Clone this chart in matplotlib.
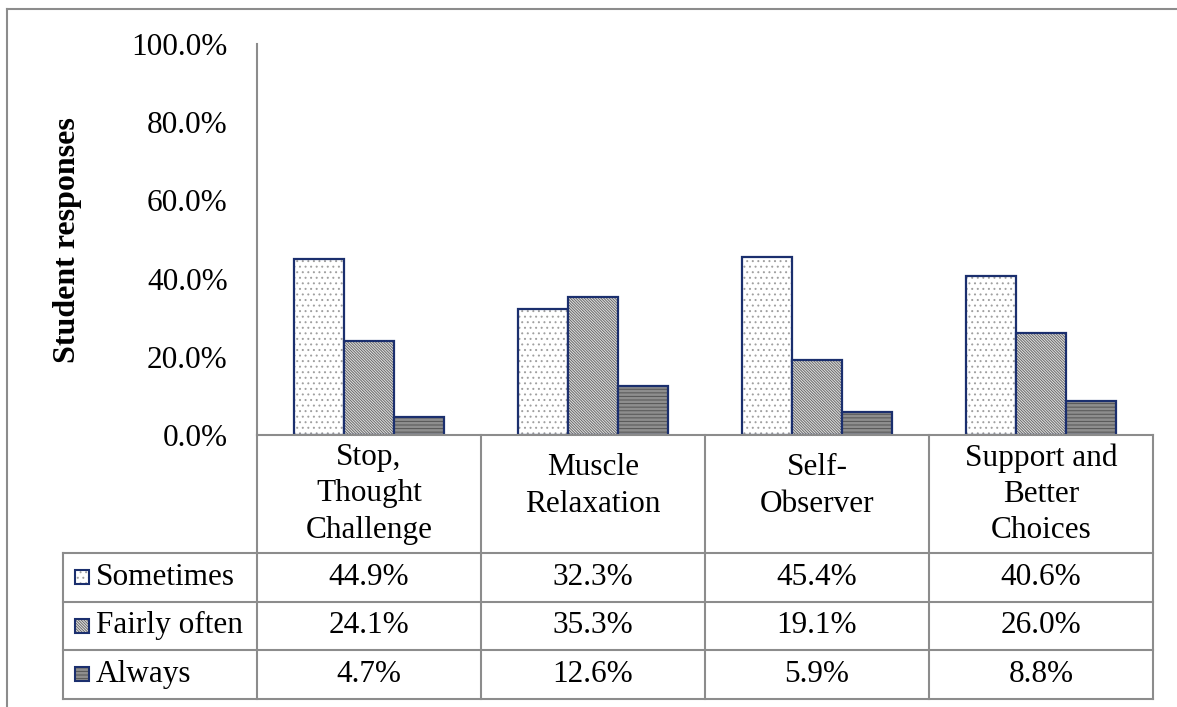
import numpy as np
import matplotlib.pyplot as plt
from matplotlib.patches import Rectangle
from matplotlib.lines import Line2D
from matplotlib.transforms import blended_transform_factory

# data
categories = ["Stop,\nThought\nChallenge", "Muscle\nRelaxation",
              "Self-\nObserver", "Support and\nBetter\nChoices"]
series = ["Sometimes", "Fairly often", "Always"]
sometimes = [44.9, 32.3, 45.4, 40.6]
fairly_often = [24.1, 35.3, 19.1, 26.0]
always = [4.7, 12.6, 5.9, 8.8]
yticks = [0, 20, 40, 60, 80, 100]

plt.rcParams['font.family'] = ['Liberation Serif', 'DejaVu Serif']
plt.rcParams['hatch.linewidth'] = 0.7

navy = '#1b2f6e'
gray = '#8c8c8c'
# face colour, hatch, hatch colour for each series
styles = [
    ('white', '...', '#a0a0a0'),
    ('#e2e2e2', '\\' * 12, '#6a6a6a'),
    ('#dedede', '-' * 12, '#555555'),
]
values = [sometimes, fairly_often, always]

W, H = 1177, 707
fig = plt.figure(figsize=(W / 100, H / 100), dpi=100)
ax = fig.add_axes([257 / W, 1 - 435 / H, (1153 - 257) / W, (435 - 44) / H])

x = np.arange(len(categories))
w = 50 / 224
for i, vals in enumerate(values):
    face, hatch, hc = styles[i]
    ax.bar(x + (i - 1) * w, vals, w, color=face, hatch=hatch,
           edgecolor=hc, linewidth=0)
    ax.bar(x + (i - 1) * w, vals, w, fill=False, edgecolor=navy, linewidth=1.6)

ax.set_xlim(-0.5, len(categories) - 0.5)
ax.set_ylim(0, 100)
ax.set_yticks(yticks)
ax.set_yticklabels([f"{t:.1f}%" for t in yticks], fontsize=22.5)
ax.set_xticks([])
ax.tick_params(axis='y', length=0, pad=21)
for s in ['top', 'right']:
    ax.spines[s].set_visible(False)
for s in ['left', 'bottom']:
    ax.spines[s].set_color(gray)
    ax.spines[s].set_linewidth(1.5)

# data table under the plot
tr = blended_transform_factory(ax.transData, ax.transAxes)
ah = 435 - 44
header_h = 118 / ah
row_h = 48.5 / ah
y_head = -header_h
y_rows = [y_head - row_h * (k + 1) for k in range(len(series))]
y_bot = y_rows[-1]
x_leg = -0.5 - 194 / 224

def hline(x0, x1, y):
    ax.add_line(Line2D([x0, x1], [y, y], transform=tr, color=gray,
                       lw=1.5, clip_on=False))

def vline(xx, y0, y1):
    ax.add_line(Line2D([xx, xx], [y0, y1], transform=tr, color=gray,
                       lw=1.5, clip_on=False))

for k in range(len(categories) + 1):
    vline(-0.5 + k, 0, y_bot)
vline(x_leg, y_head, y_bot)
for yy in [y_head] + y_rows:
    hline(x_leg, len(categories) - 0.5, yy)

for j, cat in enumerate(categories):
    yc = y_head / 2 if cat.count('\n') == 2 else y_head / 2 + 8 / ah
    ax.text(j, yc, cat, transform=tr, ha='center', va='center',
            fontsize=22.5, linespacing=1.32)

for i, name in enumerate(series):
    yc = y_head - row_h * (i + 0.5)
    face, hatch, hc = styles[i]
    sw, sh = 14 / 224, 14 / ah
    sx = -0.5 - 182 / 224
    ax.add_patch(Rectangle((sx, yc - sh / 2), sw, sh, transform=tr,
                           facecolor=face, hatch=hatch, edgecolor=hc,
                           linewidth=0, clip_on=False))
    ax.add_patch(Rectangle((sx, yc - sh / 2), sw, sh, transform=tr,
                           fill=False, edgecolor=navy, linewidth=1.5,
                           clip_on=False))
    ax.text(-0.5 - 161 / 224, yc, name, transform=tr, ha='left',
            va='center', fontsize=22.5)
    for j, v in enumerate(values[i]):
        ax.text(j, yc, f"{v:.1f}%", transform=tr, ha='center',
                va='center', fontsize=22.5)

fig.text(68 / W, 1 - 240 / H, 'Student responses', rotation=90,
         fontweight='bold', fontsize=23, ha='center', va='center')

# chart border
fig.add_artist(Line2D([7 / W, 7 / W], [0, 1 - 9 / H], color=gray, lw=1.5))
fig.add_artist(Line2D([7 / W, 1], [1 - 9 / H, 1 - 9 / H], color=gray, lw=1.5))

fig.savefig('out.png', dpi=100)
